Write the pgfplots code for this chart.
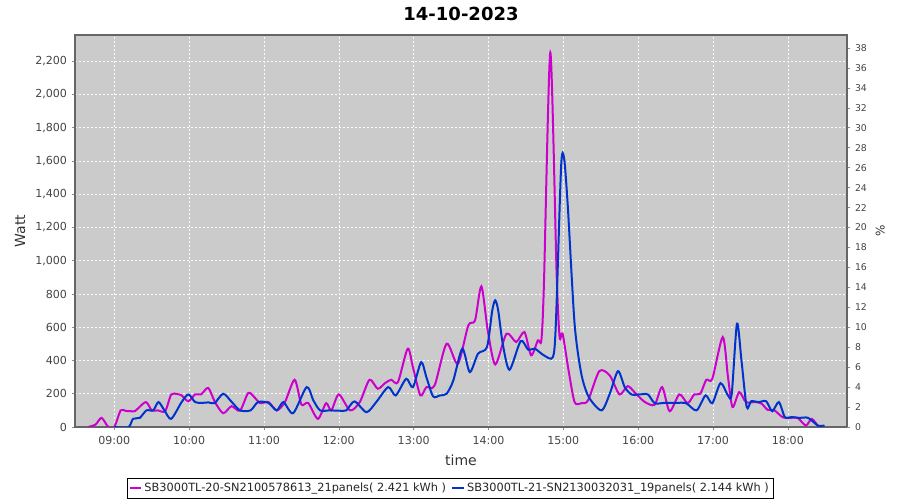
\documentclass[border=0pt]{standalone}
\usepackage{fontspec}
\setmainfont{DejaVu Sans}
\usepackage{pgfplots}
\pgfplotsset{compat=1.18}
\definecolor{plotbg}{RGB}{203,203,203}
\definecolor{sbmag}{RGB}{204,0,204}
\definecolor{sbblue}{RGB}{0,51,204}
\definecolor{ticktext}{RGB}{68,68,68}

% time in hours, power in W
\pgfplotstableread{
t W
8.65 0
8.75 15
8.83 55
8.92 0
9.00 0
9.085 100
9.15 97
9.22 95
9.28 97
9.42 150
9.50 100
9.58 100
9.68 95
9.76 195
9.84 198
9.90 190
9.99 155
10.08 196
10.16 196
10.255 235
10.345 150
10.455 83
10.567 125
10.68 98
10.79 205
10.88 175
10.95 143
11.06 150
11.17 100
11.28 150
11.41 284
11.50 135
11.59 145
11.72 49
11.83 143
11.90 100
12.00 196
12.15 100
12.28 150
12.41 284
12.52 230
12.62 265
12.70 284
12.79 270
12.92 471
12.99 360
13.09 190
13.17 240
13.28 250
13.44 501
13.59 380
13.73 611
13.82 641
13.905 846
13.99 581
14.09 376
14.24 561
14.37 511
14.48 571
14.57 431
14.66 521
14.706 521
14.74 850
14.826 2252
14.91 925
14.95 541
14.99 561
15.07 340
15.15 150
15.24 143
15.33 160
15.48 336
15.62 310
15.75 196
15.86 246
15.97 200
16.09 150
16.22 134
16.32 240
16.42 95
16.55 196
16.66 143
16.75 196
16.83 200
16.91 284
16.99 290
17.13 541
17.20 300
17.26 120
17.35 210
17.44 150
17.57 150
17.65 140
17.73 103
17.82 100
17.93 59
18.04 55
18.13 55
18.24 9
18.32 49
18.41 0
}\invA

\pgfplotstableread{
t W
9.00 0
9.19 0
9.25 49
9.34 55
9.43 100
9.52 100
9.59 150
9.67 100
9.76 49
9.90 150
9.99 196
10.08 150
10.17 145
10.26 148
10.34 143
10.455 200
10.57 150
10.68 100
10.82 100
10.92 150
11.06 145
11.17 100
11.26 150
11.39 83
11.57 240
11.66 160
11.75 100
11.88 100
12.01 98
12.10 100
12.21 154
12.37 89
12.50 150
12.66 240
12.76 190
12.90 290
12.99 240
13.10 390
13.17 300
13.26 184
13.35 190
13.44 200
13.53 280
13.65 471
13.75 330
13.86 441
13.98 481
14.05 700
14.09 762
14.13 700
14.19 501
14.28 344
14.43 517
14.53 465
14.62 471
14.74 431
14.86 420
14.90 622
14.97 1565
15.01 1616
15.06 1324
15.15 622
15.24 320
15.34 180
15.51 100
15.62 200
15.73 336
15.82 240
15.91 196
16.02 196
16.13 196
16.22 143
16.35 145
16.50 145
16.64 143
16.78 100
16.90 190
16.99 143
17.10 264
17.20 190
17.25 200
17.32 622
17.38 400
17.45 120
17.51 155
17.61 150
17.71 155
17.79 95
17.88 150
17.96 59
18.05 60
18.15 55
18.27 55
18.40 9
18.49 9
}\invB

\begin{document}
\begin{tikzpicture}
\path[use as bounding box] (0,0) rectangle (675pt,375pt);

\begin{axis}[
    at={(56.25pt,54.75pt)}, anchor=south west,
    scale only axis, width=579pt, height=294pt,
    xmin=8.475, xmax=18.79,
    ymin=0, ymax=2358,
    axis background/.style={fill=plotbg},
    axis line style={draw=black!60, line width=0.8pt},
    grid=major,
    major grid style={white!90!plotbg, line width=0.4pt, dash pattern=on 1.5pt off 1.5pt},
    xtick={9,10,...,18},
    xticklabels={09:00,10:00,11:00,12:00,13:00,14:00,15:00,16:00,17:00,18:00},
    ytick={0,200,...,2200},
    xtick pos=bottom, ytick pos=left,
    tick align=outside, major tick length=2.5pt,
    tick style={black!45, line width=0.4pt},
    /pgf/number format/1000 sep={,},
    /pgf/number format/assume math mode=true,
    tick label style={font=\fontsize{8.3}{10}\selectfont, text=ticktext},
    xticklabel style={yshift=-1pt},
    xlabel={time},
    xlabel style={font=\fontsize{10.5}{12}\selectfont, text=black!80, at={(axis description cs:0.5,-0.084)}, anchor=center},
    ylabel={Watt},
    ylabel style={font=\fontsize{10.5}{12}\selectfont, text=black!80, at={(axis description cs:-0.071,0.5)}, anchor=center},
    title={14-10-2023},
    every axis title shift=0pt,
    title style={font=\bfseries\fontsize{13.5}{16}\selectfont, at={(axis description cs:0.5,1.054)}, anchor=center},
    legend columns=2,
    legend style={at={(axis description cs:0.486,-0.156)}, anchor=center,
        draw=black, line width=0.5pt, fill=white,
        font=\fontsize{8.5}{10}\selectfont, text=black!85,
        inner xsep=1pt, inner ysep=1.5pt,
        /tikz/every even column/.append style={column sep=2pt}},
    legend image code/.code={\draw[#1, line width=1.2pt] (0,0) -- (0.3cm,0);},
]
\addplot[sbmag, line width=1.5pt, smooth, tension=0.45] table[x=t, y=W] {\invA};
\addlegendentry{SB3000TL-20-SN2100578613\_21panels( 2.421 kWh )}
\addplot[sbblue, line width=1.5pt, smooth, tension=0.45] table[x=t, y=W] {\invB};
\addlegendentry{SB3000TL-21-SN2130032031\_19panels( 2.144 kWh )}
\end{axis}

\begin{axis}[
    at={(56.25pt,54.75pt)}, anchor=south west,
    scale only axis, width=579pt, height=294pt,
    xmin=8.475, xmax=18.79,
    ymin=0, ymax=39.3,
    hide x axis,
    axis y line*=right,
    axis line style={draw=black!60, line width=0.8pt},
    ytick={0,2,...,38},
    tick align=outside, major tick length=2.5pt,
    tick style={black!45, line width=0.4pt},
    /pgf/number format/assume math mode=true,
    yticklabel style={font=\fontsize{7}{8}\selectfont, text=ticktext},
    ylabel={\%},
    ylabel style={font=\fontsize{9}{10}\selectfont, text=black!80, at={(axis description cs:1.043,0.5)}, anchor=center},
]
\end{axis}
\end{tikzpicture}
\end{document}
